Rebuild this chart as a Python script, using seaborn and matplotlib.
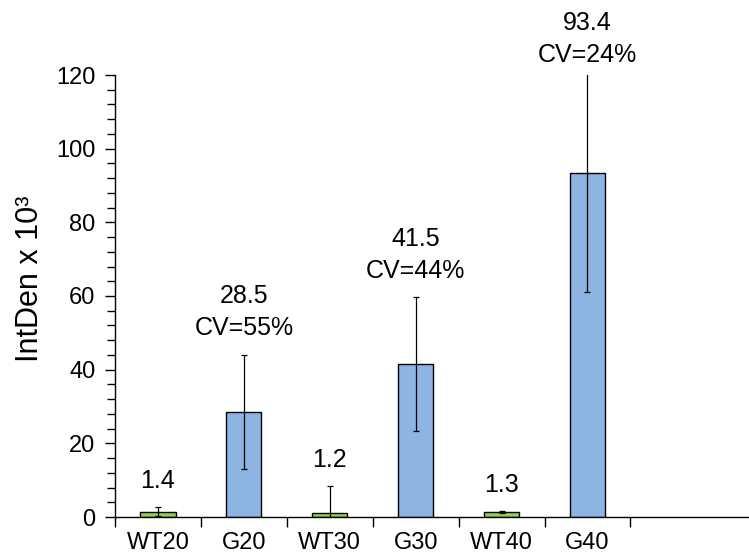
import matplotlib
matplotlib.use("Agg")
import matplotlib.pyplot as plt
import seaborn as sns
import numpy as np
import pandas as pd
from matplotlib.ticker import MultipleLocator, FixedLocator

categories = ["WT20", "G20", "WT30", "G30", "WT40", "G40"]
values = [1.4, 28.5, 1.2, 41.5, 1.3, 93.4]
errors = [1.2, 15.6, 7.1, 18.2, 0.3, 32.2]
cv_labels = ["", "CV=55%", "", "CV=44%", "", "CV=24%"]
colors = ["#92D050", "#8DB4E2", "#92D050", "#8DB4E2", "#92D050", "#8DB4E2"]

sns.set_theme(style="white")
plt.rcParams["font.family"] = ["Liberation Sans", "DejaVu Sans"]
plt.rcParams["text.color"] = "black"
plt.rcParams["axes.labelcolor"] = "black"
plt.rcParams["xtick.color"] = "black"
plt.rcParams["ytick.color"] = "black"

df = pd.DataFrame({"cat": categories, "val": values})

fig = plt.figure(figsize=(7.49, 5.57), dpi=100)
ax = fig.add_axes([115 / 749, 40 / 557, 634 / 749, 442 / 557])

sns.barplot(data=df, x="cat", y="val", hue="cat", palette=colors, legend=False,
            width=0.41, edgecolor="black", linewidth=1.0, saturation=1, ax=ax)

x = np.arange(len(categories))
ax.errorbar(x, values, yerr=errors, fmt="none", ecolor="black", elinewidth=0.9,
            capsize=2, capthick=0.9, zorder=5)

ax.set_ylim(0, 120)
ax.set_xlim(-0.5, 6.88)

for i, (v, e, cv) in enumerate(zip(values, errors, cv_labels)):
    top = v + e
    if top > 120:
        y, off = 120, 6
    else:
        y, off = top, 10.5
    txt = f"{v:.1f}" + ("\n" + cv if cv else "")
    ax.annotate(txt, (i, y), xytext=(0, off), textcoords="offset points",
                ha="center", va="bottom", fontsize=18, linespacing=1.4,
                annotation_clip=False)

for s in ["top", "right"]:
    ax.spines[s].set_visible(False)
for s in ["left", "bottom"]:
    ax.spines[s].set_color("black")
    ax.spines[s].set_linewidth(1.0)

ax.yaxis.set_major_locator(MultipleLocator(20))
ax.yaxis.set_minor_locator(MultipleLocator(4))
ax.tick_params(axis="y", which="both", direction="out", length=7, width=1,
               color="black", left=True, labelsize=17, pad=7)
ax.tick_params(axis="y", which="minor", length=6)

ax.set_xticks(x)
ax.set_xticklabels(categories)
ax.xaxis.set_minor_locator(FixedLocator(np.arange(-0.5, 6.0, 1.0)))
ax.tick_params(axis="x", which="major", length=0, labelsize=17, pad=11)
ax.tick_params(axis="x", which="minor", direction="out", length=7, width=1,
               color="black", bottom=True)

ax.set_xlabel("")
ax.set_ylabel("IntDen x 10³", fontsize=22)
ax.yaxis.set_label_coords(-0.11, 0.54)

fig.savefig("out.png", dpi=100)
